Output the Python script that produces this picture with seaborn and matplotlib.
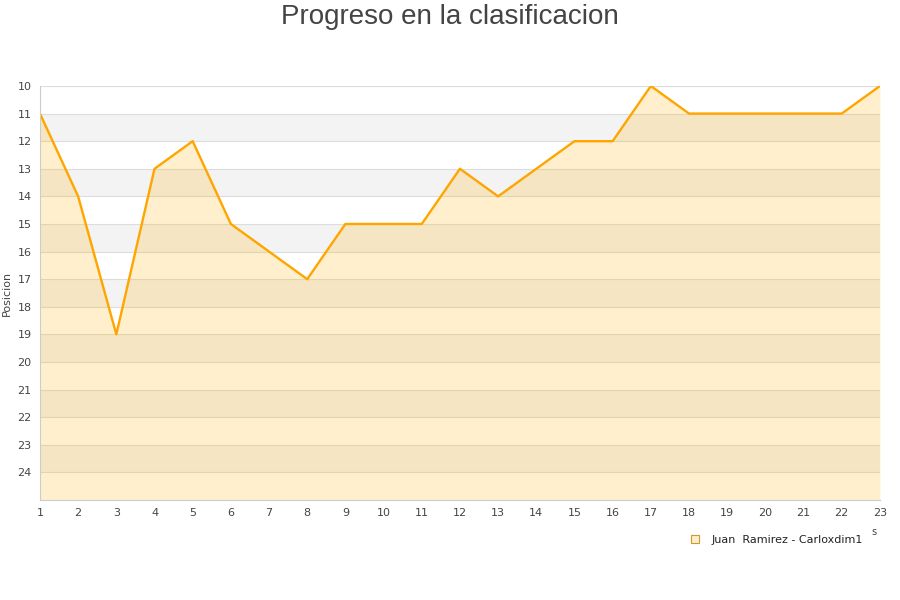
import matplotlib
matplotlib.use("Agg")
import matplotlib.pyplot as plt
import seaborn as sns
import pandas as pd
from matplotlib.lines import Line2D

jornadas = list(range(1, 24))
posicion = [11, 14, 19, 13, 12, 15, 16, 17, 15, 15, 15, 13, 14, 13, 12, 12, 10, 11, 11, 11, 11, 11, 10]
equipo = "Juan  Ramirez - Carloxdim1"

df = pd.DataFrame({"jornada": jornadas, "posicion": posicion})

sns.set_theme(style="white")
plt.rcParams["font.family"] = ["DejaVu Sans"]

fig = plt.figure(figsize=(9, 6), dpi=100)
ax = fig.add_axes([0.0444, 0.1667, 0.9333, 0.69])

# bandas alternas
for p in range(10, 25):
    if p % 2 == 1:
        ax.axhspan(p, p + 1, color="#f3f3f3", zorder=0, lw=0)
for p in range(10, 26):
    ax.axhline(p, color="#dddddd", lw=0.8, zorder=0.5)

ax.fill_between(df["jornada"], df["posicion"], 25, color="#ffb000", alpha=0.2, lw=0, zorder=1)
sns.lineplot(data=df, x="jornada", y="posicion", ax=ax, color="#ffa500", lw=1.7, zorder=2)

ax.set_xlim(1, 23)
ax.set_ylim(25, 10)
ax.set_xticks(jornadas)
ax.set_yticks(range(10, 25))
ax.tick_params(axis="both", labelsize=8, colors="#444444", length=0, pad=6)
ax.set_xlabel("")
ax.set_ylabel("Posicion", fontsize=8, color="#444444", labelpad=4)
for s in ["top", "right"]:
    ax.spines[s].set_visible(False)
for s in ["left", "bottom"]:
    ax.spines[s].set_color("#cccccc")
    ax.spines[s].set_linewidth(0.8)

fig.text(0.5, 0.993, "Progreso en la clasificacion", ha="center", va="top", fontsize=20,
         color="#444444", family=["Liberation Sans", "DejaVu Sans"])
fig.text(0.971, 0.113, "s", ha="center", va="center", fontsize=7, color="#444444")

handle = Line2D([], [], marker="s", ls="none", markersize=6,
                markerfacecolor="#ffeecc", markeredgecolor="#cc9933", markeredgewidth=0.8)
fig.legend([handle], [equipo], loc="center right", bbox_to_anchor=(0.97, 0.1), frameon=False,
           fontsize=8, handletextpad=0.5, labelcolor="#222222")

fig.savefig("out.png", dpi=100)
